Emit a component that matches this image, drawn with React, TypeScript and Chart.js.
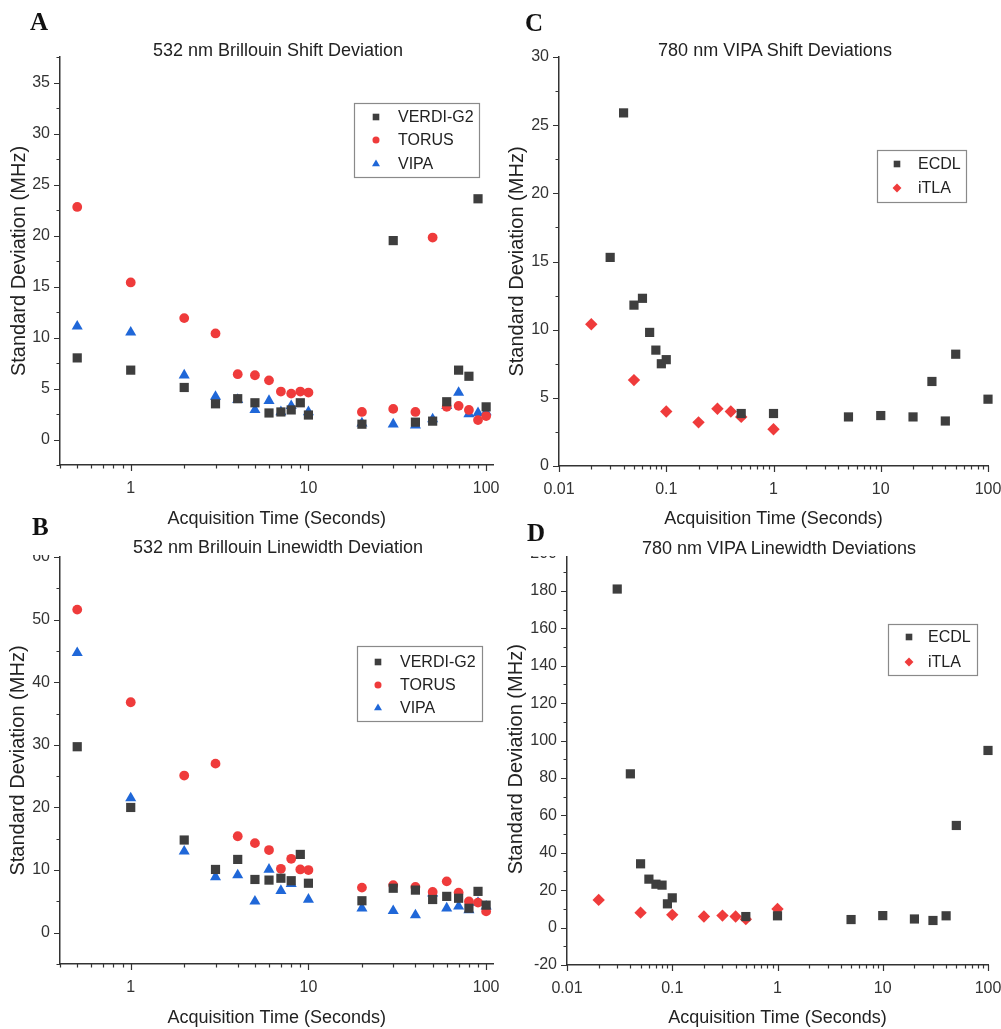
import React, { useEffect, useRef } from 'react';
import { Chart, registerables } from 'chart.js';
Chart.register(...registerables);

const FONT = "'Liberation Sans', Arial, sans-serif";
const GRAY = '#3e3e3e';
const RED = '#ef3b3b';
const BLUE = '#1f67d8';

// ---------- Panel A: 532 nm Brillouin Shift Deviation ----------
const timesAB = [0.5, 1, 2, 3, 4, 5, 6, 7, 8, 9, 10, 20, 30, 40, 50, 60, 70, 80, 90, 100];
const aVerdi = [8.0, 6.8, 5.1, 3.5, 4.0, 3.6, 2.6, 2.7, 2.9, 3.6, 2.4, 1.5, 19.5, 1.7, 1.8, 3.7, 6.8, 6.2, 23.6, 3.2];
const aTorus = [22.8, 15.4, 11.9, 10.4, 6.4, 6.3, 5.8, 4.7, 4.5, 4.7, 4.6, 2.7, 3.0, 2.7, 19.8, 3.2, 3.3, 2.9, 1.9, 2.3];
const aVipa = [11.1, 10.5, 6.3, 4.2, 3.9, 2.9, 3.8, 2.7, 3.3, null, 2.7, 1.6, 1.5, 1.4, 2.0, 3.3, 4.6, 2.5, 2.6, 2.7];

// ---------- Panel B: 532 nm Brillouin Linewidth Deviation ----------
const bVerdi = [29.7, 20.0, 14.8, 10.1, 11.7, 8.5, 8.4, 8.7, 8.3, 12.5, 7.9, 5.1, 7.1, 6.8, 5.3, 5.8, 5.5, 3.9, 6.6, 4.4];
const bTorus = [51.6, 36.8, 25.1, 27.0, 15.4, 14.3, 13.2, 10.2, 11.8, 10.1, 10.0, 7.2, 7.6, 7.3, 6.5, 8.2, 6.4, 5.0, 4.8, 3.4];
const bVipa = [44.7, 21.5, 13.0, 8.9, 9.2, 5.0, 10.1, 6.7, 7.8, null, 5.3, 3.9, 3.5, 2.8, 6.3, 3.9, 4.2, 3.6, 4.8, 4.2];

// ---------- Panel C: 780 nm VIPA Shift Deviations ----------
const timesEcdl = [0.03, 0.04, 0.05, 0.06, 0.07, 0.08, 0.09, 0.1, 0.5, 1, 5, 10, 20, 30, 40, 50, 100];
const timesItla = [0.02, 0.05, 0.1, 0.2, 0.3, 0.4, 0.5, 1];
const cEcdl = [15.3, 25.9, 11.8, 12.3, 9.8, 8.5, 7.5, 7.8, 3.85, 3.85, 3.6, 3.7, 3.6, 6.2, 3.3, 8.2, 4.9];
const cItla = [10.4, 6.3, 4.0, 3.2, 4.2, 4.0, 3.6, 2.7];

// ---------- Panel D: 780 nm VIPA Linewidth Deviations ----------
const dEcdl = [181, 82.2, 34.1, 25.9, 23.2, 22.7, 12.7, 15.9, 5.9, 6.3, 4.3, 6.4, 4.6, 3.8, 6.3, 54.6, 94.7];
const dItla = [14.8, 8.0, 6.8, 5.9, 6.4, 5.9, 4.5, 10.0];

// ---------- ticks ----------
const xMajorAB = [1, 10, 100];
const xLabelsAB = ['1', '10', '100'];
const xMinorAB = [0.4, 0.5, 0.6, 0.7, 0.8, 0.9, 2, 3, 4, 5, 6, 7, 8, 9, 20, 30, 40, 50, 60, 70, 80, 90];
const xMajorCD = [0.01, 0.1, 1, 10, 100];
const xLabelsCD = ['0.01', '0.1', '1', '10', '100'];
const xMinorCD = [0.02, 0.03, 0.04, 0.05, 0.06, 0.07, 0.08, 0.09, 0.2, 0.3, 0.4, 0.5, 0.6, 0.7, 0.8, 0.9, 2, 3, 4, 5, 6, 7, 8, 9, 20, 30, 40, 50, 60, 70, 80, 90];

const yMajorA = [0, 5, 10, 15, 20, 25, 30, 35];
const yLabelsA = ['0', '5', '10', '15', '20', '25', '30', '35'];
const yMinorA = [-2.5, 2.5, 7.5, 12.5, 17.5, 22.5, 27.5, 32.5, 37.5];
const yMajorB = [0, 10, 20, 30, 40, 50, 60];
const yLabelsB = ['0', '10', '20', '30', '40', '50', '60'];
const yMinorB = [-5, 5, 15, 25, 35, 45, 55];
const yMajorC = [0, 5, 10, 15, 20, 25, 30];
const yLabelsC = ['0', '5', '10', '15', '20', '25', '30'];
const yMinorC = [2.5, 7.5, 12.5, 17.5, 22.5, 27.5];
const yMajorD = [-20, 0, 20, 40, 60, 80, 100, 120, 140, 160, 180, 200];
const yLabelsD = ['-20', '0', '20', '40', '60', '80', '100', '120', '140', '160', '180', '200'];
const yMinorD = [-10, 10, 30, 50, 70, 90, 110, 130, 150, 170, 190];

const seriesAB = ['VERDI-G2', 'TORUS', 'VIPA'];
const seriesCD = ['ECDL', 'iTLA'];

type Ser = { label: string; xs: number[]; ys: (number | null)[]; style: string; color: string; r: number };

function pts(xs: number[], ys: (number | null)[]) {
  const out: { x: number; y: number }[] = [];
  xs.forEach((x, i) => {
    const y = ys[i];
    if (y !== null && y !== undefined) out.push({ x, y });
  });
  return out;
}

function drawMarker(ctx: CanvasRenderingContext2D, style: string, x: number, y: number, r: number, color: string) {
  ctx.fillStyle = color;
  ctx.beginPath();
  if (style === 'rect') {
    const s = r * Math.SQRT1_2;
    ctx.rect(x - s, y - s, 2 * s, 2 * s);
  } else if (style === 'circle') {
    ctx.arc(x, y, r, 0, Math.PI * 2);
  } else if (style === 'triangle') {
    let a = 0;
    ctx.moveTo(x + Math.sin(a) * r, y - Math.cos(a) * r);
    a += (2 * Math.PI) / 3;
    ctx.lineTo(x + Math.sin(a) * r, y - Math.cos(a) * r);
    a += (2 * Math.PI) / 3;
    ctx.lineTo(x + Math.sin(a) * r, y - Math.cos(a) * r);
  } else {
    ctx.moveTo(x, y - r);
    ctx.lineTo(x + r, y);
    ctx.lineTo(x, y + r);
    ctx.lineTo(x - r, y);
  }
  ctx.closePath();
  ctx.fill();
}

type PanelCfg = {
  left: number; canvasTop: number; clipTop: number; w: number; h: number;
  pad: { top: number; right: number };
  yWidth: number; xHeight: number; yTitlePad: number;
  xMin: number; xMax: number; yMin: number; yMax: number;
  xMajor: number[]; xLabels: string[]; xMinor: number[];
  yMajor: number[]; yLabels: string[]; yMinor: number[];
  series: Ser[];
  legend: { x: number; y: number; w: number; h: number; rows: number[]; mx: number; tx: number };
};

function Panel({ cfg }: { cfg: PanelCfg }) {
  const ref = useRef<HTMLCanvasElement | null>(null);
  useEffect(() => {
    if (!ref.current) return;
    const xMajSet = new Set(cfg.xMajor);
    const yMajSet = new Set(cfg.yMajor);
    const tickPlugin = {
      id: 'axisTicks',
      afterDraw(chart: any) {
        const { ctx, chartArea, scales } = chart;
        ctx.save();
        ctx.strokeStyle = '#333';
        ctx.lineWidth = 1.2;
        ctx.beginPath();
        for (const t of scales.x.ticks) {
          const px = Math.round(scales.x.getPixelForValue(t.value)) + 0.5;
          const len = xMajSet.has(t.value) ? 6 : 3.5;
          ctx.moveTo(px, chartArea.bottom);
          ctx.lineTo(px, chartArea.bottom + len);
        }
        for (const t of scales.y.ticks) {
          const py = Math.round(scales.y.getPixelForValue(t.value)) + 0.5;
          const len = yMajSet.has(t.value) ? 6 : 3.5;
          ctx.moveTo(chartArea.left, py);
          ctx.lineTo(chartArea.left - len, py);
        }
        ctx.stroke();
        ctx.restore();
      },
    };
    const lg = cfg.legend;
    const legendPlugin = {
      id: 'boxLegend',
      afterDraw(chart: any) {
        const ctx: CanvasRenderingContext2D = chart.ctx;
        ctx.save();
        ctx.fillStyle = '#fff';
        ctx.fillRect(lg.x, lg.y, lg.w, lg.h);
        ctx.strokeStyle = '#8a8a8a';
        ctx.lineWidth = 1.2;
        ctx.strokeRect(lg.x + 0.5, lg.y + 0.5, lg.w, lg.h);
        ctx.font = `16px ${FONT}`;
        ctx.textBaseline = 'middle';
        ctx.textAlign = 'left';
        cfg.series.forEach((s, i) => {
          const ry = lg.rows[i];
          drawMarker(ctx, s.style, lg.mx, ry, s.r * 0.72, s.color);
          ctx.fillStyle = '#222';
          ctx.fillText(s.label, lg.tx, ry + 1);
        });
        ctx.restore();
      },
    };
    const chart = new Chart(ref.current, {
      type: 'scatter',
      data: {
        datasets: cfg.series.map((s) => ({
          label: s.label,
          data: pts(s.xs, s.ys),
          pointStyle: s.style as any,
          pointRadius: s.r,
          pointBackgroundColor: s.color,
          pointBorderColor: s.color,
          pointBorderWidth: 0,
          showLine: false,
          clip: false as any,
        })),
      },
      options: {
        animation: false,
        responsive: false,
        events: [],
        layout: { padding: { top: cfg.pad.top, right: cfg.pad.right, left: 0, bottom: 0 } },
        plugins: {
          legend: { display: false },
          tooltip: { enabled: false },
          title: { display: false },
        },
        scales: {
          x: {
            type: 'logarithmic',
            position: 'bottom',
            min: cfg.xMin,
            max: cfg.xMax,
            afterBuildTicks: (s: any) => {
              s.ticks = [...cfg.xMinor, ...cfg.xMajor].sort((a, b) => a - b).map((v) => ({ value: v, major: xMajSet.has(v) }));
            },
            afterFit: (s: any) => {
              s.height = cfg.xHeight;
              s.paddingLeft = 0;
              s.paddingRight = 0;
            },
            grid: { display: false, drawTicks: true, tickLength: 6 },
            border: { display: true, color: '#333', width: 1.5 },
            ticks: {
              autoSkip: false,
              maxRotation: 0,
              minRotation: 0,
              padding: 8,
              color: '#333',
              font: { family: FONT, size: 16 },
              callback: (v: any) => {
                const i = cfg.xMajor.indexOf(Number(v));
                return i >= 0 ? cfg.xLabels[i] : '';
              },
            },
            title: {
              display: true,
              text: 'Acquisition Time (Seconds)',
              color: '#222',
              font: { family: FONT, size: 18 },
              padding: { top: 0, bottom: 0 },
            },
          },
          y: {
            type: 'linear',
            min: cfg.yMin,
            max: cfg.yMax,
            afterBuildTicks: (s: any) => {
              s.ticks = [...cfg.yMinor, ...cfg.yMajor].sort((a, b) => a - b).map((v) => ({ value: v, major: yMajSet.has(v) }));
            },
            afterFit: (s: any) => {
              s.width = cfg.yWidth;
              s.paddingTop = 0;
              s.paddingBottom = 0;
            },
            grid: { display: false, drawTicks: true, tickLength: 6 },
            border: { display: true, color: '#333', width: 1.5 },
            ticks: {
              autoSkip: false,
              padding: 4,
              color: '#333',
              font: { family: FONT, size: 16 },
              callback: (v: any) => {
                const i = cfg.yMajor.indexOf(Number(v));
                return i >= 0 ? cfg.yLabels[i] : '';
              },
            },
            title: {
              display: true,
              text: 'Standard Deviation (MHz)',
              color: '#222',
              font: { family: FONT, size: 20 },
              padding: { top: cfg.yTitlePad, bottom: 0 },
            },
          },
        },
      } as any,
      plugins: [tickPlugin, legendPlugin],
    });
    return () => chart.destroy();
  }, [cfg]);

  return (
    <div
      style={{
        position: 'absolute',
        left: cfg.left,
        top: cfg.clipTop,
        width: cfg.w,
        height: 1029 - cfg.clipTop,
        overflow: 'hidden',
      }}
    >
      <canvas
        ref={ref}
        width={cfg.w}
        height={cfg.h}
        style={{ position: 'absolute', left: 0, top: cfg.canvasTop - cfg.clipTop, width: cfg.w, height: cfg.h, display: 'block' }}
      />
    </div>
  );
}

const panelA: PanelCfg = {
  left: 0, canvasTop: 0, clipTop: 0, w: 500, h: 530,
  pad: { top: 57, right: 3 }, yWidth: 60, xHeight: 65, yTitlePad: 7,
  xMin: 0.4, xMax: 110, yMin: -2.5, yMax: 37.5,
  xMajor: xMajorAB, xLabels: xLabelsAB, xMinor: xMinorAB,
  yMajor: yMajorA, yLabels: yLabelsA, yMinor: yMinorA,
  series: [
    { label: seriesAB[0], xs: timesAB, ys: aVerdi, style: 'rect', color: GRAY, r: 6.5 },
    { label: seriesAB[1], xs: timesAB, ys: aTorus, style: 'circle', color: RED, r: 4.9 },
    { label: seriesAB[2], xs: timesAB, ys: aVipa, style: 'triangle', color: BLUE, r: 6.4 },
  ],
  legend: { x: 354, y: 103, w: 125, h: 74, rows: [117, 140, 164], mx: 376, tx: 398 },
};

const panelB: PanelCfg = {
  left: 0, canvasTop: 535, clipTop: 555, w: 500, h: 494,
  pad: { top: 22, right: 3 }, yWidth: 60, xHeight: 65, yTitlePad: 6,
  xMin: 0.4, xMax: 110, yMin: -5, yMax: 60,
  xMajor: xMajorAB, xLabels: xLabelsAB, xMinor: xMinorAB,
  yMajor: yMajorB, yLabels: yLabelsB, yMinor: yMinorB,
  series: [
    { label: seriesAB[0], xs: timesAB, ys: bVerdi, style: 'rect', color: GRAY, r: 6.5 },
    { label: seriesAB[1], xs: timesAB, ys: bTorus, style: 'circle', color: RED, r: 4.9 },
    { label: seriesAB[2], xs: timesAB, ys: bVipa, style: 'triangle', color: BLUE, r: 6.4 },
  ],
  legend: { x: 357, y: 111, w: 125, h: 75, rows: [127, 150, 173], mx: 378, tx: 400 },
};

const panelC: PanelCfg = {
  left: 500, canvasTop: 0, clipTop: 0, w: 501, h: 530,
  pad: { top: 57, right: 13 }, yWidth: 59, xHeight: 64, yTitlePad: 5,
  xMin: 0.01, xMax: 100, yMin: 0, yMax: 30,
  xMajor: xMajorCD, xLabels: xLabelsCD, xMinor: xMinorCD,
  yMajor: yMajorC, yLabels: yLabelsC, yMinor: yMinorC,
  series: [
    { label: seriesCD[0], xs: timesEcdl, ys: cEcdl, style: 'rect', color: GRAY, r: 6.5 },
    { label: seriesCD[1], xs: timesItla, ys: cItla, style: 'rectRot', color: RED, r: 6.2 },
  ],
  legend: { x: 377, y: 150, w: 89, h: 52, rows: [164, 188], mx: 397, tx: 418 },
};

const panelD: PanelCfg = {
  left: 500, canvasTop: 536, clipTop: 556, w: 501, h: 493,
  pad: { top: 17.5, right: 13 }, yWidth: 67, xHeight: 64, yTitlePad: 4,
  xMin: 0.01, xMax: 100, yMin: -20, yMax: 200,
  xMajor: xMajorCD, xLabels: xLabelsCD, xMinor: xMinorCD,
  yMajor: yMajorD, yLabels: yLabelsD, yMinor: yMinorD,
  series: [
    { label: seriesCD[0], xs: timesEcdl, ys: dEcdl, style: 'rect', color: GRAY, r: 6.5 },
    { label: seriesCD[1], xs: timesItla, ys: dItla, style: 'rectRot', color: RED, r: 6.2 },
  ],
  legend: { x: 388, y: 88, w: 89, h: 51, rows: [101, 126], mx: 409, tx: 428 },
};

const titles = [
  { text: '532 nm Brillouin Shift Deviation', cx: 278, cy: 50 },
  { text: '532 nm Brillouin Linewidth Deviation', cx: 278, cy: 547 },
  { text: '780 nm VIPA Shift Deviations', cx: 775, cy: 50 },
  { text: '780 nm VIPA Linewidth Deviations', cx: 779, cy: 548 },
];
const letters = [
  { text: 'A', x: 30, baseline: 30 },
  { text: 'B', x: 32, baseline: 535 },
  { text: 'C', x: 525, baseline: 31 },
  { text: 'D', x: 527, baseline: 541 },
];

export default function App() {
  return (
    <div style={{ position: 'absolute', left: 0, top: 0, width: 1001, height: 1029, background: '#fff', overflow: 'hidden' }}>
      <Panel cfg={panelA} />
      <Panel cfg={panelB} />
      <Panel cfg={panelC} />
      <Panel cfg={panelD} />
      {titles.map((t) => (
        <div
          key={t.text}
          style={{
            position: 'absolute', left: t.cx - 250, top: t.cy - 10, width: 500, height: 20,
            lineHeight: '20px', textAlign: 'center', fontFamily: FONT, fontSize: 18, color: '#222', whiteSpace: 'nowrap',
          }}
        >
          {t.text}
        </div>
      ))}
      {letters.map((l) => (
        <div
          key={l.text}
          style={{
            position: 'absolute', left: l.x, top: l.baseline - 21, height: 25, lineHeight: '25px',
            fontFamily: "'Liberation Serif', 'Times New Roman', serif", fontWeight: 'bold', fontSize: 25, color: '#111',
          }}
        >
          {l.text}
        </div>
      ))}
    </div>
  );
}
